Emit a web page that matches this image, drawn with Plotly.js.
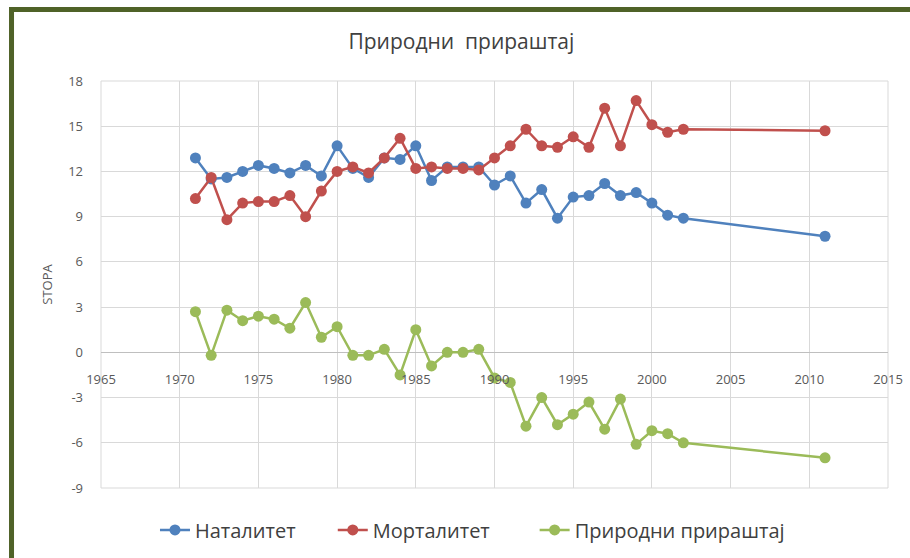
<!DOCTYPE html>
<html>
<head>
<meta charset="utf-8">
<script src="https://cdn.plot.ly/plotly-3.0.1.min.js"></script>
<style>html,body{margin:0;padding:0;background:#fff;}#chart{width:910px;height:558px;}</style>
</head>
<body>
<div id="chart"></div>
<script>
const years = [1971,1972,1973,1974,1975,1976,1977,1978,1979,1980,1981,1982,1983,1984,1985,1986,1987,1988,1989,1990,1991,1992,1993,1994,1995,1996,1997,1998,1999,2000,2001,2002,2011];
const natalitet = [12.9,11.5,11.6,12.0,12.4,12.2,11.9,12.4,11.7,13.7,12.2,11.6,12.9,12.8,13.7,11.4,12.3,12.3,12.3,11.1,11.7,9.9,10.8,8.9,10.3,10.4,11.2,10.4,10.6,9.9,9.1,8.9,7.7];
const mortalitet = [10.2,11.6,8.8,9.9,10.0,10.0,10.4,9.0,10.7,12.0,12.3,11.9,12.9,14.2,12.2,12.3,12.2,12.2,12.1,12.9,13.7,14.8,13.7,13.6,14.3,13.6,16.2,13.7,16.7,15.1,14.6,14.8,14.7];
const prirastaj = [2.7,-0.2,2.8,2.1,2.4,2.2,1.6,3.3,1.0,1.7,-0.2,-0.2,0.2,-1.5,1.5,-0.9,0.0,0.0,0.2,-1.7,-2.0,-4.9,-3.0,-4.8,-4.1,-3.3,-5.1,-3.1,-6.1,-5.2,-5.4,-6.0,-7.0];
const seriesNames = ["Наталитет","Морталитет","Природни прираштај"];
const colors = ["#4f81bd","#c0504d","#9bbb59"];
const xTicks = [1965,1970,1975,1980,1985,1990,1995,2000,2005,2010,2015];
const yTicks = [-9,-6,-3,0,3,6,9,12,15,18];

const legendIds = ['legend','legend2','legend3'];
const legendX = [0.0686, 0.2945, 0.551];

const values = [natalitet, mortalitet, prirastaj];
const traces = values.map((v,i)=>({
  x: years, y: v, name: seriesNames[i], type: 'scatter', mode: 'lines+markers',
  line: {color: colors[i], width: 2.5},
  marker: {color: colors[i], size: 11, symbol: 'circle'},
  legend: legendIds[i]
}));

const legendStyle = x => ({orientation: 'h', x: x, xanchor: 'left', y: -0.103, yanchor: 'middle',
           font: {family: 'Open Sans, sans-serif', size: 20, color: '#404040'},
           itemwidth: 30, bgcolor: 'rgba(0,0,0,0)', borderwidth: 0});

const layout = {
  width: 910, height: 558,
  margin: {l: 101, r: 22, t: 81, b: 70, autoexpand: false},
  paper_bgcolor: '#fff', plot_bgcolor: '#fff',
  font: {family: 'Open Sans, sans-serif', color: '#595959'},
  title: {text: 'Природни  прираштај', x: 0.507, xanchor: 'center', y: 0.926, yanchor: 'middle',
          font: {family: 'Open Sans, sans-serif', size: 21, color: '#404040'}},
  xaxis: {
    range: [1965, 2015], tickvals: xTicks, ticktext: xTicks.map(String),
    anchor: 'free', position: 1/3, showline: false, zeroline: false,
    showgrid: true, gridcolor: '#d9d9d9', gridwidth: 1,
    ticks: '', ticklabelstandoff: 18,
    tickfont: {size: 13, color: '#595959'}
  },
  yaxis: {
    range: [-9, 18], tickvals: yTicks, ticktext: yTicks.map(String),
    showgrid: true, gridcolor: '#d9d9d9', gridwidth: 1,
    zeroline: true, zerolinecolor: '#bfbfbf', zerolinewidth: 1,
    showline: false, ticks: '', ticklabelstandoff: 17,
    tickfont: {size: 13, color: '#595959'},
    title: {text: 'STOPA', standoff: 12, font: {size: 13, color: '#595959'}}
  },
  showlegend: true,
  legend: legendStyle(legendX[0]),
  legend2: legendStyle(legendX[1]),
  legend3: legendStyle(legendX[2]),
  shapes: [
    {type: 'rect', xref: 'paper', yref: 'paper', x0: 0, x1: 1, y0: 0, y1: 1,
     line: {color: '#d9d9d9', width: 1}, layer: 'below'},
    {type: 'path', xref: 'paper', yref: 'paper',
     path: 'M -0.1137 -0.3 L -0.1137 1.1757 L 1.1 1.1757',
     line: {color: '#4f6228', width: 5}, layer: 'above'}
  ]
};

Plotly.newPlot('chart', traces, layout, {displayModeBar: false, staticPlot: true});
</script>
</body>
</html>
